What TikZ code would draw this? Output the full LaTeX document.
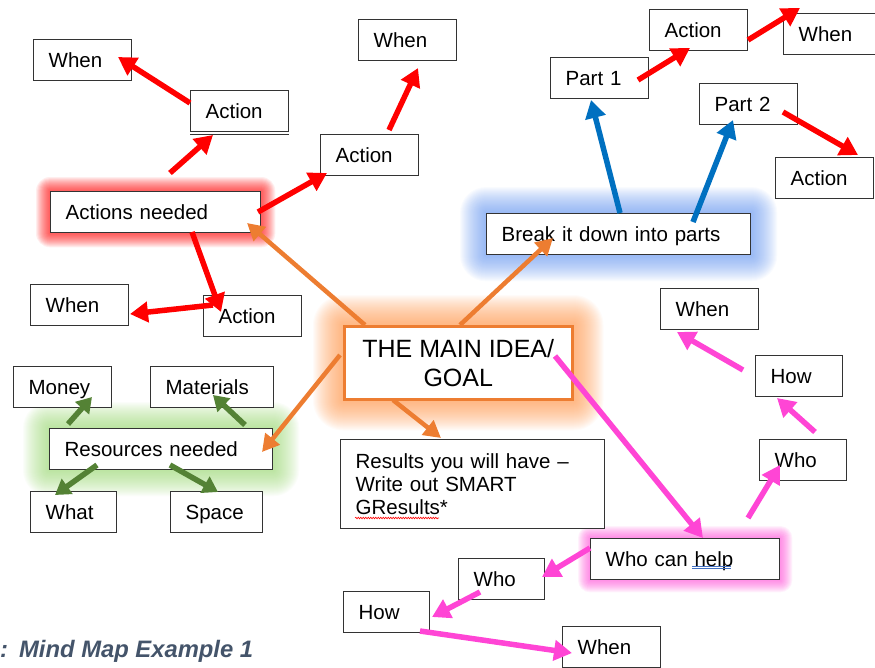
\documentclass[tikz,border=0pt]{standalone}
\usepackage{fontspec}
\setmainfont{Liberation Sans}
\usetikzlibrary{arrows.meta,backgrounds,decorations.pathmorphing}

\definecolor{mmred}{HTML}{FF0000}
\definecolor{mmblue}{HTML}{0070C0}
\definecolor{mmorange}{HTML}{ED7D31}
\definecolor{mmpink}{HTML}{FF45D5}
\definecolor{mmgreen}{HTML}{548235}
\definecolor{boxline}{HTML}{333333}
\definecolor{capcol}{HTML}{44546A}
\definecolor{glowblue}{HTML}{5A8EEE}
\definecolor{glowgreen}{HTML}{92D468}
\definecolor{gloworange}{HTML}{FF9447}
\definecolor{checkblue}{HTML}{4472C4}

\tikzset{
  mapbox/.style={draw=boxline, line width=1.3pt, fill=white, anchor=north west,
    inner xsep=15pt, inner ysep=0pt, minimum height=41pt,
    text width=#1, text height=15pt, text depth=0pt, align=left,
    font=\fontsize{20.5}{24}\selectfont},
  mapbox/.default=68pt,
  link/.style={line width=5.5pt, -{Triangle[length=18pt,width=20pt]}},
  redlink/.style={link, mmred},
  bluelink/.style={link, mmblue},
  pinklink/.style={link, mmpink},
  orangelink/.style={line width=4.5pt, -{Triangle[length=17pt,width=18pt]}, mmorange},
  greenlink/.style={line width=5.5pt, -{Triangle[length=15pt,width=18pt]}, mmgreen}
}

\begin{document}
\begin{tikzpicture}[x=1pt,y=-1pt]
    \useasboundingbox (0,0) rectangle (875,667);

    % action branch
    \node[mapbox] (wA) at (33,39) {When};
    \node[mapbox] (a1) at (190,90) {Action};
    \draw[boxline, line width=1.3pt] ([shift={(0,2.5)}]a1.south west) -- ([shift={(0,2.5)}]a1.south east);
    \node[mapbox] (wB) at (358,19) {When};
    \node[mapbox] (a2) at (320,134) {Action};
    \node[mapbox=180pt] (an) at (50,191) {Actions needed};
    \node[mapbox] (wC) at (30,284) {When};
    \node[mapbox] (a3) at (203,295) {Action};

    % parts branch
    \node[mapbox=234pt] (brk) at (486,213) {Break it down into parts};
    \node[mapbox] (p1) at (550,57) {Part 1};
    \node[mapbox] (aP1) at (649,9) {Action};
    \node[mapbox] (wD) at (783,13) {When};
    \node[mapbox] (p2) at (699,83) {Part 2};
    \node[mapbox] (aP2) at (775,157) {Action};

    % help branch
    \node[mapbox] (wE) at (660,288) {When};
    \node[mapbox=57pt] (hR) at (755,355) {How};
    \node[mapbox=57pt] (wR) at (759,439) {Who};
    \node[mapbox=159pt] (help) at (590,538) {Who can help};
    \node[mapbox=56pt] (wB2) at (458,558) {Who};
    \node[mapbox=56pt] (hB) at (343,591) {How};
    \node[mapbox] (wF) at (562,626) {When};

    % resources branch
    \node[mapbox=193pt] (res) at (49,428) {Resources needed};
    \node[mapbox] (money) at (13,366) {Money};
    \node[mapbox=93pt] (mat) at (150,366) {Materials};
    \node[mapbox=56pt] (what) at (30,491) {What};
    \node[mapbox=62pt] (space) at (170,491) {Space};

    % centre and results
    \node[draw=mmorange, line width=2.5pt, fill=white, anchor=north west,
          minimum width=228pt, minimum height=73pt, align=center,
          font=\fontsize{25}{29}\selectfont] (main) at (343,325) {THE MAIN IDEA/\\GOAL};
    \node[draw=boxline, line width=1.3pt, fill=white, anchor=north west, inner xsep=15pt,
          text width=234pt, minimum height=89pt, align=left,
          font=\fontsize{20.5}{23}\selectfont] (results) at (340,439) {Results you will have --\\Write out SMART\\GResults*};
    \draw[mmred, line width=0.6pt, decorate, decoration={snake, amplitude=0.8pt, segment length=2.5pt}]
        ([shift={(15,79)}]results.north west) -- ([shift={(99,79)}]results.north west);
    \draw[checkblue, line width=0.6pt] ([shift={(102,28)}]help.north west) -- ([shift={(141,28)}]help.north west);
    \draw[checkblue, line width=0.6pt] ([shift={(102,30.5)}]help.north west) -- ([shift={(141,30.5)}]help.north west);

    \node[anchor=base west, inner sep=0pt, text=capcol,
          font=\fontsize{23.8}{28}\selectfont\bfseries\itshape] (caption) at (0,657) {:\hspace{11pt}Mind Map Example 1};

    % glows
    \begin{scope}[on background layer]
        \foreach \g in {1,...,14}
            \fill[mmred, opacity=.065, rounded corners=\g pt] ([shift={(-\g,-\g)}]an.north west) rectangle ([shift={(\g,\g)}]an.south east);
        \foreach \g in {1,...,26}
            \fill[glowblue, opacity=.035, rounded corners=\g pt] ([shift={(-\g,-\g)}]brk.north west) rectangle ([shift={(\g,\g)}]brk.south east);
        \foreach \g in {1,...,30}
            \fill[gloworange, opacity=.035, rounded corners=\g pt] ([shift={(-\g,-\g)}]main.north west) rectangle ([shift={(\g,\g)}]main.south east);
        \foreach \g in {1,...,26}
            \fill[glowgreen, opacity=.035, rounded corners=\g pt] ([shift={(-\g,-\g)}]res.north west) rectangle ([shift={(\g,\g)}]res.south east);
        \foreach \g in {1,...,12}
            \fill[mmpink, opacity=.07, rounded corners=\g pt] ([shift={(-\g,-\g)}]help.north west) rectangle ([shift={(\g,\g)}]help.south east);
    \end{scope}

    % red arrows
    \draw[redlink] ([shift={(120,-18)}]an.north west) -- ([shift={(23,45)}]a1.north west);
    \draw[redlink] ([shift={(0,13)}]a1.north west) -- ([shift={(85,18)}]wA.north west);
    \draw[redlink] ([shift={(208,21)}]an.north west) -- ([shift={(7,39)}]a2.north west);
    \draw[redlink] ([shift={(69,-4)}]a2.north west) -- ([shift={(60,49)}]wB.north west);
    \draw[redlink] ([shift={(142,41)}]an.north west) -- ([shift={(18,17)}]a3.north west);
    \draw[redlink] ([shift={(10,10)}]a3.north west) -- ([shift={(100,30)}]wC.north west);
    \draw[redlink] ([shift={(88,23)}]p1.north west) -- ([shift={(41,39)}]aP1.north west);
    \draw[redlink] ([shift={(99,31)}]aP1.north west) -- ([shift={(17,-5)}]wD.north west);
    \draw[redlink] ([shift={(84,29)}]p2.north west) -- ([shift={(83,-2)}]aP2.north west);

    % blue arrows
    \draw[bluelink] ([shift={(134,0)}]brk.north west) -- ([shift={(41,43)}]p1.north west);
    \draw[bluelink] ([shift={(207,9)}]brk.north west) -- ([shift={(34,37)}]p2.north west);

    % orange arrows
    \draw[orangelink] ([shift={(22,0)}]main.north west) -- ([shift={(197,32)}]an.north west);
    \draw[orangelink] ([shift={(117,0)}]main.north west) -- ([shift={(67,25)}]brk.north west);
    \draw[orangelink] ([shift={(-3,30)}]main.north west) -- ([shift={(213,24)}]res.north west);
    \draw[orangelink] ([shift={(50,75)}]main.north west) -- ([shift={(101,-1)}]results.north west);

    % pink arrows
    \draw[pinklink] ([shift={(212,31)}]main.north west) -- ([shift={(113,0)}]help.north west);
    \draw[pinklink] ([shift={(158,-20)}]help.north west) -- ([shift={(21,26)}]wR.north west);
    \draw[pinklink] ([shift={(56,-7)}]wR.north west) -- ([shift={(22,43)}]hR.north west);
    \draw[pinklink] ([shift={(-12,15)}]hR.north west) -- ([shift={(17,44)}]wE.north west);
    \draw[pinklink] ([shift={(0,10)}]help.north west) -- ([shift={(84,19)}]wB2.north west);
    \draw[pinklink] ([shift={(22,34)}]wB2.north west) -- ([shift={(89,26)}]hB.north west);
    \draw[pinklink] ([shift={(77,40)}]hB.north west) -- ([shift={(10,27)}]wF.north west);

    % green arrows
    \draw[greenlink] ([shift={(19,-4)}]res.north west) -- ([shift={(79,31)}]money.north west);
    \draw[greenlink] ([shift={(196,-3)}]res.north west) -- ([shift={(63,29)}]mat.north west);
    \draw[greenlink] ([shift={(48,37)}]res.north west) -- ([shift={(25,4)}]what.north west);
    \draw[greenlink] ([shift={(121,37)}]res.north west) -- ([shift={(48,1)}]space.north west);
\end{tikzpicture}
\end{document}
